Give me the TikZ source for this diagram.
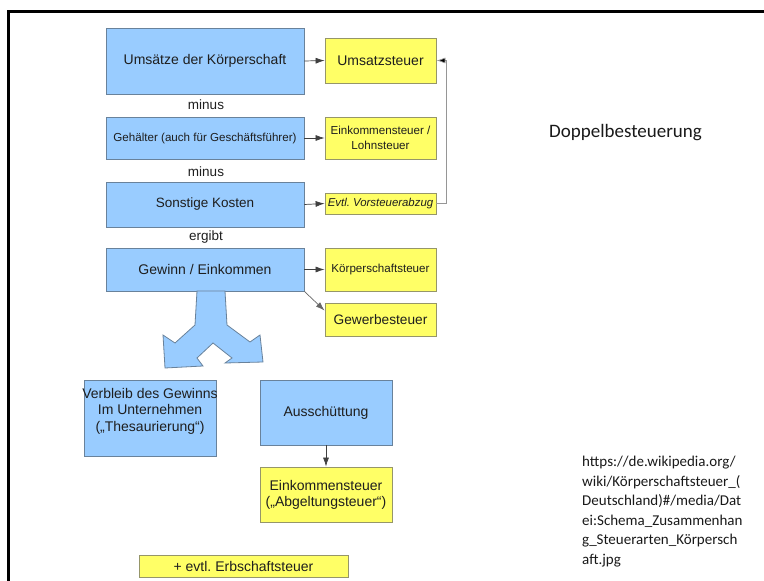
\documentclass[tikz,border=0pt]{standalone}
\usepackage{fontspec}
\setmainfont{Liberation Sans}
\newfontfamily\calib{Carlito}
\usetikzlibrary{arrows.meta,calc}
\definecolor{bfill}{RGB}{153,204,255}
\definecolor{bdraw}{RGB}{105,130,155}
\definecolor{yfill}{RGB}{255,255,102}
\definecolor{ydraw}{RGB}{150,150,105}
\definecolor{txt}{RGB}{30,30,30}
\definecolor{lgray}{RGB}{150,150,150}
\newcommand{\fs}[2]{\fontsize{#1}{#2}\selectfont}
\frenchspacing
\begin{document}
\frenchspacing
\begin{tikzpicture}[x=1pt,y=-1pt,
  bluebox/.style={draw=bdraw, fill=bfill, line width=0.8pt, inner sep=0pt, align=center, text=txt, font=\fs{14}{16.5}},
  yelbox/.style={draw=ydraw, fill=yfill, line width=0.8pt, inner sep=0pt, align=center, text=txt, font=\fs{14}{16}},
  lbl/.style={inner sep=0pt, text=txt, font=\fs{13.5}{16}},
  conn/.style={draw=black!75, line width=0.7pt, -{Latex[length=9pt,width=6pt]}},
  frameline/.style={line width=3pt, black}
]
\useasboundingbox (0,0) rectangle (764,581);
% frame
\coordinate (fa) at (8,581);
\coordinate (fb) at (8,11);
\coordinate (fc) at (764,11);
\draw[frameline] (fa) -- (fb) -- (fc);

% left column
\node[bluebox, minimum width=198pt, minimum height=66pt] (u) at (205,61) {Umsätze der Körperschaft};
\node[lbl] (m1) at (206,105) {minus};
\node[bluebox, minimum width=198pt, minimum height=42pt, font=\fs{11.6}{14}] (geh) at (205,138) {Gehälter (auch für Geschäftsführer)};
\node[lbl] (m2) at (206,172) {minus};
\node[bluebox, minimum width=198pt, minimum height=45pt, font=\fs{13.5}{16}] (sk) at (205,204.5) {Sonstige Kosten};
\node[lbl] (erg) at (206,237) {ergibt};
\node[bluebox, minimum width=198pt, minimum height=43pt] (gw) at (205,269.5) {Gewinn / Einkommen};

% right column
\node[yelbox, minimum width=111pt, minimum height=45pt] (ust) at (380.5,60.5) {Umsatzsteuer};
\node[yelbox, minimum width=111pt, minimum height=42pt, font=\fs{11.6}{15}] (est) at (380.5,138) {Einkommensteuer /\\Lohnsteuer};
\node[yelbox, minimum width=111pt, minimum height=21pt, font=\fs{11.4}{14}\itshape] (vst) at (380.5,203.5) {Evtl. Vorsteuerabzug};
\node[yelbox, minimum width=111pt, minimum height=43pt, font=\fs{11.6}{14}] (kst) at (380.5,269.5) {Körperschaftsteuer};
\node[yelbox, minimum width=111pt, minimum height=33pt, font=\fs{13.7}{16}] (gwst) at (380.5,319.5) {Gewerbesteuer};

% connectors
\draw[conn] (u.east) -- (ust.west);
\draw[conn] (geh.east) -- (est.west);
\draw[conn] (sk.east) -- (vst.west);
\draw[conn] (gw.east) -- (kst.west);
\draw[conn, draw=black!60] (gw.south east) -- ($(gwst.north west)+(0,8)$);
\draw[draw=lgray, line width=0.7pt, -{Latex[length=9pt,width=6pt,fill=black]}] (vst.east) -- ++(10,0) |- (ust.east);

% split arrow
\draw[draw=bdraw, fill=bfill, line width=0.8pt]
  (197,291) -- (195,325) -- (175,343) -- (163,335) -- (165,368) -- (203,366)
  -- (197,358) -- (213,343) -- (232,358) -- (225,363) -- (263,362) -- (260,335)
  -- (250,342) -- (227,325) -- (225,291) -- cycle;

% lower part
\node[bluebox, minimum width=132pt, minimum height=76pt] (verb) at (150,418) {};
\node[inner sep=0pt, align=center, text=txt, font=\fs{14}{16.5}] (verbt) at (150,411) {Verbleib des Gewinns\\Im Unternehmen\\(„Thesaurierung“)};
\node[bluebox, minimum width=132pt, minimum height=65pt] (aus) at (326,412.5) {Ausschüttung};
\node[yelbox, minimum width=132pt, minimum height=55pt] (est2) at (326,494.5) {Einkommensteuer\\(„Abgeltungsteuer“)};
\draw[conn] (aus.south) -- (est2.north);
\node[yelbox, minimum width=209pt, minimum height=22pt] (erb) at (243.5,566) {+ evtl. Erbschaftsteuer};

% right texts
\node[inner sep=0pt, anchor=base, font=\calib\fs{19}{23}, text=black!90] (dop) at (625.5,137.5) {Doppelbesteuerung};
\node[inner sep=0pt, anchor=north west, align=left, font=\calib\fs{15}{19.5}, text=black!90] (url) at (582,456) {https://de.wikipedia.org/\\wiki/Körperschaftsteuer\_(\\Deutschland)\#/media/Dat\\ei:Schema\_Zusammenhan\\g\_Steuerarten\_Körpersch\\aft.jpg};
\end{tikzpicture}
\end{document}
